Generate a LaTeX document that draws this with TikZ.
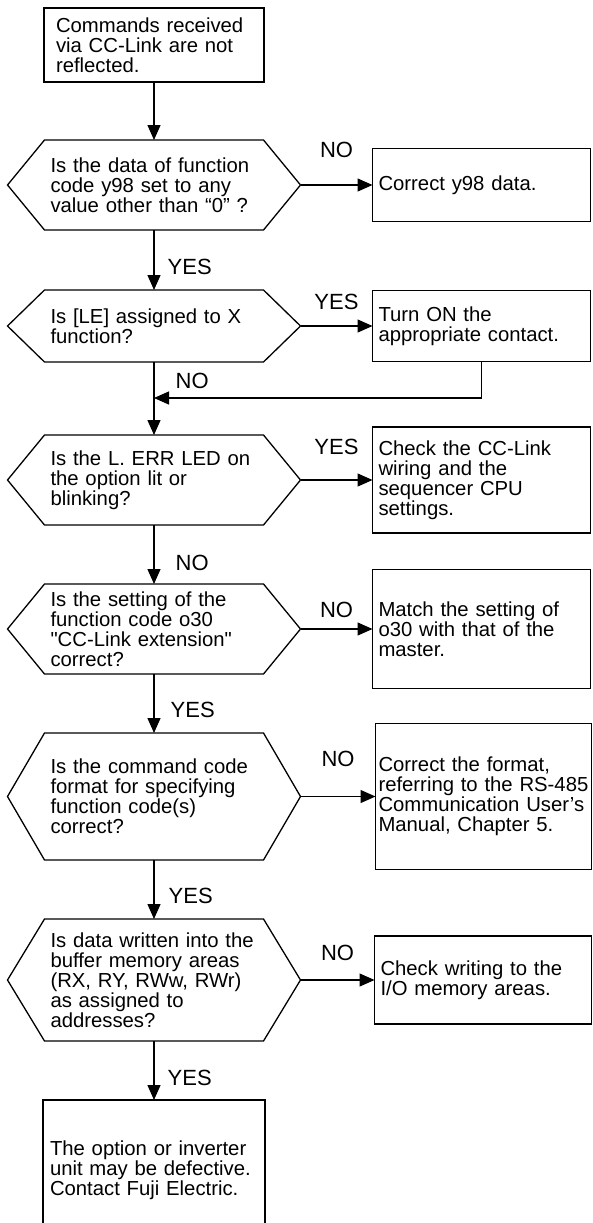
\documentclass[tikz,border=0pt]{standalone}
\usepackage{fontspec}
\newfontfamily\flowfont{Liberation Sans}
\usetikzlibrary{arrows.meta,positioning}

\begin{document}
\begin{tikzpicture}[
    x=1pt, y=1pt,
    line width=1.3pt,
    node distance=59pt and 72pt,
    txt/.style={font=\flowfont\fontsize{20.3}{20}\selectfont, align=left, outer sep=0pt, inner ysep=0pt},
    startbox/.style={txt, draw, text width=196pt, inner xsep=12pt, minimum height=74pt},
    endbox/.style={txt, draw, text width=208pt, inner xsep=7pt, minimum height=140pt},
    hexa/.style={txt, text width=207pt, inner xsep=43pt},
    fixbox/.style={txt, draw, text width=206pt, inner xsep=6pt},
    lbl/.style={font=\flowfont\fontsize{22}{22}\selectfont, inner sep=0pt},
    arrow/.style={-{Triangle[length=15pt, width=13pt]}}
]
\useasboundingbox (0,0) rectangle (592,-1223);
\node[startbox] (start) at (154,-45) {Commands received\\via CC-Link are not\\reflected.};
\node[hexa, minimum height=90pt, below=58pt of start] (q1) {Is the data of function\\code y98 set to any\\value other than “0” ?};
\node[hexa, minimum height=72pt, below=60pt of q1] (q2) {Is [LE] assigned to X\\function?};
\node[hexa, minimum height=90pt, below=73pt of q2] (q3) {Is the L. ERR LED on\\the option lit or\\blinking?};
\node[hexa, minimum height=90pt, below=of q3] (q4) {Is the setting of the\\function code o30\\"CC-Link extension"\\correct?};
\node[hexa, minimum height=127pt, below=of q4] (q5) {Is the command code\\format for specifying\\function code(s)\\correct?};
\node[hexa, minimum height=122pt, below=of q5] (q6) {Is data written into the\\buffer memory areas\\(RX, RY, RWw, RWr)\\as assigned to\\addresses?};
\node[endbox, below=of q6] (defect) {The option or inverter\\unit may be defective.\\Contact Fuji Electric.};
\node[fixbox, minimum height=73pt, right=of q1] (a1) {Correct y98 data.};
\node[fixbox, minimum height=71pt, right=of q2] (a2) {Turn ON the\\appropriate contact.};
\node[fixbox, minimum height=106pt, right=of q3] (a3) {Check the CC-Link\\wiring and the\\sequencer CPU\\settings.};
\node[fixbox, minimum height=119pt, right=of q4] (a4) {Match the setting of\\o30 with that of the\\master.};
\node[fixbox, text width=210pt, inner xsep=3pt, minimum height=146pt, right=75pt of q5] (a5) {Correct the format,\\referring to the RS-485\\Communication User’s\\Manual, Chapter 5.};
\node[fixbox, text width=205pt, minimum height=88pt, right=74pt of q6] (a6) {Check writing to the\\I/O memory areas.};
\coordinate[below=36pt of q2] (join);
\foreach \q in {q1,q2,q3,q4,q5,q6}
  \draw ([xshift=37pt]\q.north west) -- (\q.west) -- ([xshift=37pt]\q.south west) -- ([xshift=-37pt]\q.south east) -- (\q.east) -- ([xshift=-37pt]\q.north east) -- cycle;
\draw[arrow] (start) -- (q1);
\draw[arrow] (q1) -- node[lbl, above=27pt] {NO} (a1);
\draw[arrow] (q1) -- node[lbl, right=13pt, pos=0.62] {YES} (q2);
\draw[arrow] (q2) -- node[lbl, above=16pt] {YES} (a2);
\draw[arrow] (a2.south) |- (join);
\draw[arrow] (q2) -- node[lbl, right=21pt, pos=0.26] {NO} (q3);
\draw[arrow] (q3) -- node[lbl, above=25pt] {YES} (a3);
\draw[arrow] (q3) -- node[lbl, right=21pt, pos=0.64] {NO} (q4);
\draw[arrow] (q4) -- node[lbl, above=11pt] {NO} (a4);
\draw[arrow] (q4) -- node[lbl, right=16pt, pos=0.61] {YES} (q5);
\draw[arrow] (q5) -- node[lbl, above=29pt] {NO} (a5);
\draw[arrow] (q5) -- node[lbl, right=14pt, pos=0.61] {YES} (q6);
\draw[arrow] (q6) -- node[lbl, above=19pt] {NO} (a6);
\draw[arrow] (q6) -- node[lbl, right=13pt, pos=0.63] {YES} (defect);
\end{tikzpicture}
\end{document}
